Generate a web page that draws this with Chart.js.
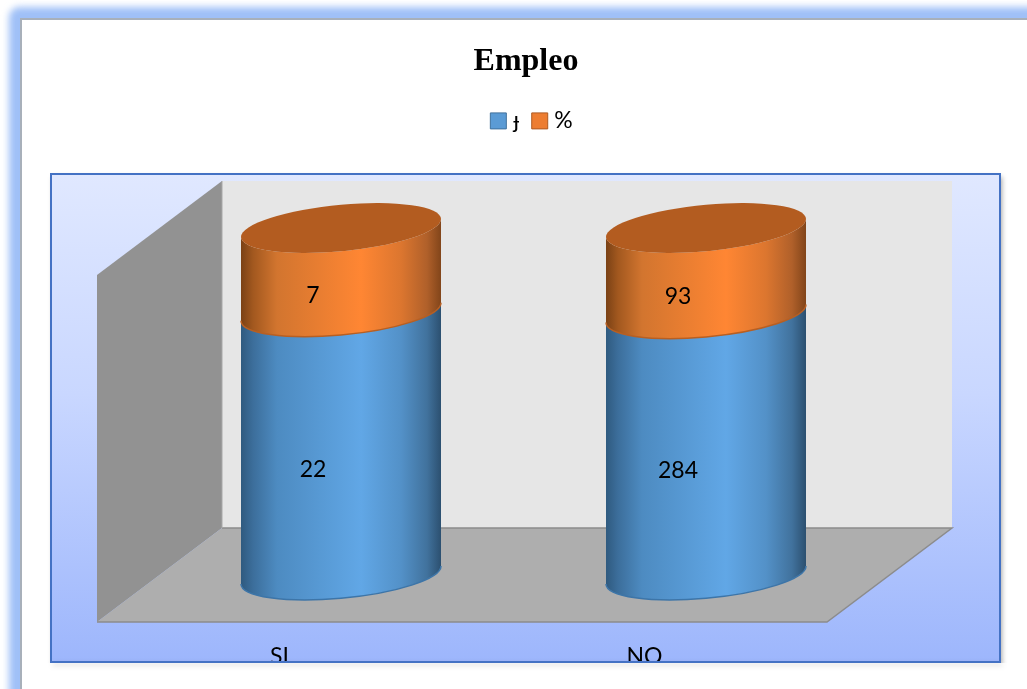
<!DOCTYPE html>
<html><head><meta charset="utf-8">
<style>html,body{margin:0;padding:0;background:#fff;overflow:hidden}canvas{display:block}</style>
<script src="https://cdn.jsdelivr.net/npm/chart.js@4/dist/chart.umd.min.js"></script>
</head><body><div style="position:absolute;left:0;top:0;width:1027px;height:689px"><canvas id="c"></canvas></div>
<script>
const titleText = 'Empleo';
const categories = ['SI', 'NO'];
const seriesNames = ['\u025F', '%'];
const frecuencia = [22, 284];
const porcentaje = [7, 93];
const seriesColors = ['#5B9BD5', '#ED7D31'];
const seriesBorders = ['#41719C', '#AE5A21'];

const shares = s => s.map((v, i) => v / (frecuencia[i] + porcentaje[i]) * 100);

const PANEL = {l: 51, t: 174, r: 1000, b: 662};
const DEPTH = {dx: 61.5, dy: -47, wx: 125, wy: -94};
const LABEL_OFF = {dx: 33.5, dy: -21};
const BODY = [
  [[0,'#2f5a7f'],[0.06,'#3c6e9b'],[0.18,'#4d8bc1'],[0.6,'#61a7e6'],[0.8,'#5391c8'],[0.93,'#41729d'],[1,'#2c5070']],
  [[0,'#7a4115'],[0.06,'#a2581f'],[0.18,'#d2752f'],[0.6,'#ff8633'],[0.8,'#dc762f'],[0.93,'#b0602a'],[1,'#82451a']]
];
const LID = '#B35C20';
const EDGE = ['#3d75a8', '#b85f22'];

function drawFrame(ctx) {
  const W = ctx.canvas.width, H = ctx.canvas.height;
  ctx.save();
  ctx.fillStyle = '#fff'; ctx.fillRect(0, 0, W, H);
  // soft outer blue band
  ctx.save();
  ctx.filter = 'blur(3.5px)';
  ctx.fillStyle = '#9fc0f7';
  ctx.beginPath(); ctx.roundRect(9, 7, W + 60, H + 60, 10); ctx.fill();
  ctx.restore();
  ctx.fillStyle = '#a8b0ba'; ctx.fillRect(20, 18, W, H);
  ctx.fillStyle = '#fff'; ctx.fillRect(22, 20, W, H);
  // panel
  ctx.save();
  ctx.shadowColor = 'rgba(0,0,0,0.35)'; ctx.shadowBlur = 5; ctx.shadowOffsetX = 2; ctx.shadowOffsetY = 3;
  const g = ctx.createLinearGradient(0, PANEL.t, 0, PANEL.b);
  g.addColorStop(0, '#e0e8ff'); g.addColorStop(0.45, '#c9d7ff'); g.addColorStop(1, '#9db6fc');
  ctx.fillStyle = g;
  ctx.fillRect(PANEL.l, PANEL.t, PANEL.r - PANEL.l, PANEL.b - PANEL.t);
  ctx.restore();
  ctx.restore();
}

function panelBorder(ctx) {
  ctx.save();
  ctx.strokeStyle = '#4472C4'; ctx.lineWidth = 2;
  ctx.strokeRect(PANEL.l, PANEL.t, PANEL.r - PANEL.l, PANEL.b - PANEL.t);
  ctx.restore();
}

function drawWalls(chart) {
  const ctx = chart.ctx, a = chart.chartArea;
  const {left: L, right: R, top: T, bottom: B} = a;
  const bx = L + DEPTH.wx, by = DEPTH.wy;
  ctx.save();
  ctx.fillStyle = '#e6e6e6';
  ctx.fillRect(bx, T + by, R - L, B - T);
  ctx.fillStyle = '#929292';
  ctx.beginPath(); ctx.moveTo(L, T); ctx.lineTo(bx, T + by); ctx.lineTo(bx, B + by); ctx.lineTo(L, B); ctx.closePath(); ctx.fill();
  ctx.fillStyle = '#aeaeae';
  ctx.beginPath(); ctx.moveTo(L, B); ctx.lineTo(bx, B + by); ctx.lineTo(R + DEPTH.wx, B + by); ctx.lineTo(R, B); ctx.closePath(); ctx.fill();
  ctx.strokeStyle = '#8c8c8c'; ctx.lineWidth = 1.5;
  ctx.beginPath(); ctx.moveTo(bx, B + by); ctx.lineTo(R + DEPTH.wx, B + by); ctx.lineTo(R, B); ctx.lineTo(L, B); ctx.stroke();
  ctx.strokeStyle = '#a8a8a8'; ctx.lineWidth = 1;
  ctx.beginPath(); ctx.moveTo(bx, T + by); ctx.lineTo(bx, B + by); ctx.stroke();
  ctx.restore();
}

function drawSegment(ctx, bar, idx, withLid) {
  const R = bar.width / 2, b = 23.3, shear = -9 / R;
  const cx = bar.x + DEPTH.dx, yTop = bar.y + DEPTH.dy, yBot = bar.base + DEPTH.dy;
  const g = ctx.createLinearGradient(cx - R, 0, cx + R, 0);
  BODY[idx].forEach(s => g.addColorStop(s[0], s[1]));
  ctx.save();
  ctx.transform(1, shear, 0, 1, cx, 0);
  ctx.beginPath();
  ctx.ellipse(0, yBot, R, b, 0, Math.PI, 0, true);
  ctx.lineTo(R, yTop);
  if (withLid) ctx.ellipse(0, yTop, R, b, 0, 0, Math.PI, false);
  else ctx.lineTo(-R, yTop);
  ctx.closePath();
  ctx.restore();
  ctx.fillStyle = g; ctx.fill();
  ctx.save();
  ctx.transform(1, shear, 0, 1, cx, 0);
  ctx.beginPath();
  ctx.ellipse(0, yBot, R, b, 0, Math.PI, 0, true);
  ctx.restore();
  ctx.strokeStyle = EDGE[idx]; ctx.lineWidth = 1.5; ctx.stroke();
  if (withLid) {
    ctx.save();
    ctx.transform(1, shear, 0, 1, cx, 0);
    ctx.beginPath();
    ctx.ellipse(0, yTop, R, b, 0, 0, Math.PI * 2);
    ctx.restore();
    ctx.fillStyle = LID; ctx.fill();
  }
}

const plugin3d = {
  id: 'cyl3d',
  beforeLayout(chart) {
    const l = chart.legend;
    if (l && !l._wrapped) {
      const f = l.fit;
      l.fit = function () { f.call(this); this.height = 172.6; };
      // the legend text sits closer to its swatch than Chart.js's fixed gap
      const d = l.draw;
      l.draw = function () {
        const ctx = this.ctx, ft = ctx.fillText;
        ctx.fillText = function (t, x, y, m) { return m === undefined ? ft.call(ctx, t, x - 5, y) : ft.call(ctx, t, x - 5, y, m); };
        d.call(this);
        delete ctx.fillText;
      };
      l._wrapped = true;
    }
  },
  afterLayout(chart) {
    chart.titleBlock.left = 21; chart.titleBlock.right = 1031;
    chart.legend.left = 21 + 8; chart.legend.right = 1031 + 8;
  },
  beforeDraw(chart) { drawFrame(chart.ctx); },
  beforeDatasetsDraw(chart) { drawWalls(chart); },
  beforeDatasetDraw() { return false; },
  afterDatasetsDraw(chart) {
    const ctx = chart.ctx;
    const m0 = chart.getDatasetMeta(0).data, m1 = chart.getDatasetMeta(1).data;
    categories.forEach((c, j) => {
      drawSegment(ctx, m0[j], 0, false);
      drawSegment(ctx, m1[j], 1, true);
    });
    ctx.save();
    ctx.fillStyle = '#000'; ctx.font = '23px Lato'; ctx.textAlign = 'center'; ctx.textBaseline = 'middle';
    categories.forEach((c, j) => {
      [[m0[j], frecuencia[j]], [m1[j], porcentaje[j]]].forEach(([b, v]) => {
        ctx.fillText(String(v), b.x + LABEL_OFF.dx, (b.y + b.base) / 2 + LABEL_OFF.dy);
      });
    });
    ctx.restore();
  },
  afterDraw(chart) {
    const ctx = chart.ctx;
    // the category labels are cut off by the panel's lower edge
    ctx.save();
    ctx.fillStyle = '#fff';
    ctx.fillRect(22, PANEL.b + 1, 1005, 689 - PANEL.b);
    ctx.shadowColor = 'rgba(0,0,0,0.35)'; ctx.shadowBlur = 5; ctx.shadowOffsetX = 2; ctx.shadowOffsetY = 3;
    ctx.fillStyle = '#9db6fc';
    ctx.fillRect(PANEL.l, PANEL.b - 1, PANEL.r - PANEL.l, 1);
    ctx.restore();
    panelBorder(ctx);
  }
};

new Chart(document.getElementById('c'), {
  type: 'bar',
  data: {
    labels: categories,
    datasets: [
      {label: seriesNames[0], data: shares(frecuencia), backgroundColor: seriesColors[0], borderColor: seriesBorders[0], borderWidth: 1},
      {label: seriesNames[1], data: shares(porcentaje), backgroundColor: seriesColors[1], borderColor: seriesBorders[1], borderWidth: 1}
    ]
  },
  options: {
    responsive: true, maintainAspectRatio: false, animation: false,
    events: [],
    layout: {padding: {left: 97, right: 200, top: 43, bottom: 0}},
    datasets: {bar: {barPercentage: 1, categoryPercentage: 200 / 365}},
    plugins: {
      tooltip: {enabled: false},
      title: {display: true, text: titleText, color: '#000',
        font: {family: '"Liberation Serif"', size: 32, weight: 'bold', lineHeight: 1.2},
        padding: {top: 0, bottom: 21}},
      legend: {display: true, position: 'top',
        labels: {color: '#000', boxWidth: 16, boxHeight: 16, padding: 7,
          font: {family: 'Lato', size: 23}}}
    },
    scales: {
      x: {stacked: true, grid: {display: false, drawTicks: false}, border: {display: false},
        ticks: {color: '#000', padding: 21, font: {family: 'Lato', size: 23}, maxRotation: 0},
        afterFit(s) { s.height = 67; }},
      y: {stacked: true, display: false, min: 0, max: 100}
    }
  },
  plugins: [plugin3d]
});
</script></body></html>
